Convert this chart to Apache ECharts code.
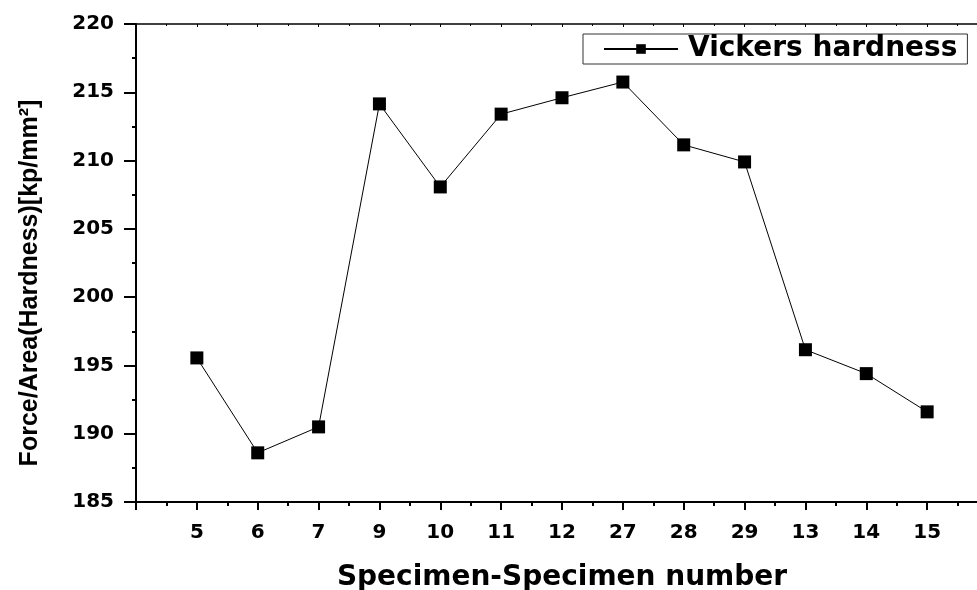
<!DOCTYPE html>
<html>
<head>
<meta charset="utf-8">
<script src="https://cdn.jsdelivr.net/npm/echarts@6/dist/echarts.min.js"></script>
<style>
html,body{margin:0;padding:0;background:#fff;}
#chart{width:977px;height:590px;}
</style>
</head>
<body>
<div id="chart"></div>
<script>
const specimens = ['5','6','7','9','10','11','12','27','28','29','13','14','15'];
const hardness = [195.55, 188.6, 190.5, 214.15, 208.07, 213.4, 214.6, 215.75, 211.15, 209.9, 196.15, 194.4, 191.6];
const yTicks = [185, 190, 195, 200, 205, 210, 215, 220];
const seriesName = 'Vickers hardness';

const hFont = 'DejaVu Sans';
const chart = echarts.init(document.getElementById('chart'), null, {renderer: 'canvas'});
const seriesData = hardness.map((v, i) => [i + 1, v]);

chart.setOption({
  animation: false,
  backgroundColor: '#ffffff',
  grid: {left: 136, top: 24, width: 852, height: 478, containLabel: false, outerBoundsMode: 'none'},
  legend: {
    left: 583, top: 34,
    data: [seriesName],
    itemWidth: 74, itemHeight: 12, itemGap: 0,
    padding: [1, 10, 1, 20],
    borderColor: '#333', borderWidth: 1,
    textStyle: {fontFamily: hFont, fontWeight: 'bold', fontSize: 28, color: '#000', padding: [0, 0, 0, 5]}
  },
  xAxis: [{
    type: 'value', position: 'bottom',
    min: 0, max: specimens.length + 1, interval: 1,
    axisLine: {show: true, onZero: false, lineStyle: {color: '#000', width: 2}},
    axisTick: {show: true, inside: false, length: 8, lineStyle: {color: '#000', width: 2}},
    minorTick: {show: true, splitNumber: 2, length: 4, lineStyle: {color: '#000', width: 2}},
    splitLine: {show: false},
    axisLabel: {
      margin: 21, fontFamily: hFont, fontWeight: 'bold', fontSize: 20, color: '#000',
      formatter: v => (v >= 1 && v <= specimens.length) ? specimens[v - 1] : ''
    },
    name: 'Specimen-Specimen number', nameLocation: 'middle', nameGap: 62,
    nameTextStyle: {fontFamily: hFont, fontWeight: 'bold', fontSize: 28, color: '#000'}
  }, {
    type: 'value', position: 'top',
    min: 0, max: specimens.length + 1, interval: 1,
    axisLine: {show: true, onZero: false, lineStyle: {color: '#000', width: 1.5}},
    axisTick: {show: true, inside: true, length: 3, lineStyle: {color: '#000', width: 1}},
    minorTick: {show: true, splitNumber: 2, length: 2, lineStyle: {color: '#000', width: 1}},
    splitLine: {show: false},
    axisLabel: {show: false}
  }],
  yAxis: {
    type: 'value',
    min: yTicks[0], max: yTicks[yTicks.length - 1], interval: 5,
    axisLine: {show: true, onZero: false, lineStyle: {color: '#000', width: 2}},
    axisTick: {show: true, inside: false, length: 12, lineStyle: {color: '#000', width: 2}},
    minorTick: {show: true, splitNumber: 2, length: 4, lineStyle: {color: '#000', width: 2}},
    splitLine: {show: false},
    axisLabel: {margin: 22, fontFamily: hFont, fontWeight: 'bold', fontSize: 20, color: '#000'},
    name: 'Force/Area(Hardness)[kp/mm²]', nameLocation: 'middle', nameGap: 93,
    nameTextStyle: {fontFamily: 'Liberation Sans', fontWeight: 'bold', fontSize: 25, color: '#000', padding: [0, 40, 0, 0]}
  },
  series: [{
    name: seriesName,
    type: 'line',
    xAxisIndex: 0,
    data: seriesData,
    symbol: 'rect', symbolSize: 13,
    itemStyle: {color: '#000'},
    lineStyle: {color: '#000', width: 1}
  }]
});
</script>
</body>
</html>
